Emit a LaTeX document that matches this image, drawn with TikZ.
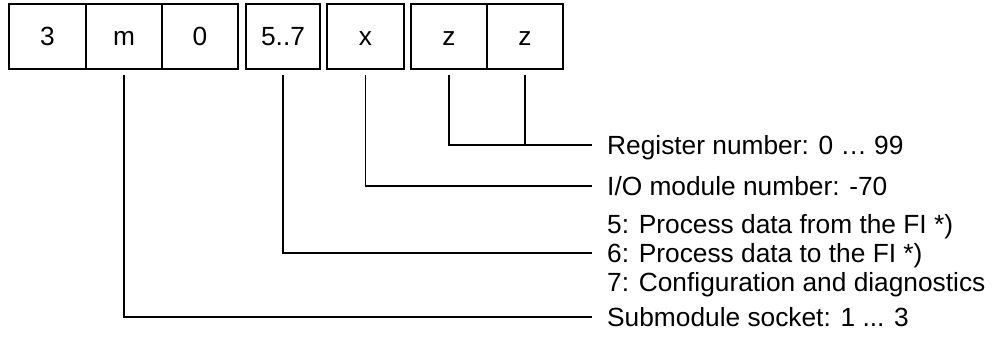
\documentclass[tikz,border=0pt]{standalone}
\usepackage{fontspec}
\setmainfont{Liberation Sans}
\begin{document}
\begin{tikzpicture}[x=1pt,y=-1pt,
  cell/.style={draw,line width=1.8pt,minimum height=65pt,inner sep=0pt,
    text height=18.8pt,text depth=0pt,
    font=\fontsize{26.3}{30}\selectfont},
  label/.style={anchor=west,inner sep=0pt,text height=18.8pt,text depth=0pt,
    font=\fontsize{26.3}{30}\selectfont},
  lead/.style={line width=1.5pt}]
\useasboundingbox (0,0) rectangle (996,338);

% address fields
\node[cell,minimum width=77pt] (c3) at (47.5,36.5) {3};
\node[cell,minimum width=76pt] (m)  at (124,36.5) {m};
\node[cell,minimum width=76pt] (c0) at (200,36.5) {0};
\node[cell,minimum width=74pt] (area) at (283,36.5) {5..7};
\node[cell,minimum width=77pt] (x)  at (365.5,36.5) {x};
\node[cell,minimum width=76pt] (z1) at (449,36.5) {z};
\node[cell,minimum width=76pt] (z2) at (525,36.5) {z};

% explanations
\node[label] (reg) at (607,145) {Register number: 0 … 99};
\node[label] (io)  at (607,186) {I/O module number: -70};
\node[label] (t5)  at (607,224) {5: Process data from the FI *)};
\node[label] (t6)  at (607,253) {6: Process data to the FI *)};
\node[label] (t7)  at (607,282) {7: Configuration and diagnostics};
\node[label] (sub) at (607,317) {Submodule socket: 1 ... 3};

% leader lines
\draw[lead] ([yshift=-5pt]z1.south) |- ([xshift=-15pt]reg.west);
\draw[lead] ([yshift=-5pt]z2.south) -- (z2.south |- reg.west);
\draw[lead] ([yshift=-5pt]x.south) |- ([xshift=-15pt]io.west);
\draw[lead] ([yshift=-5pt]area.south) |- ([xshift=-15pt]t6.west);
\draw[lead] ([yshift=-5pt]m.south) |- ([xshift=-15pt]sub.west);
\end{tikzpicture}
\end{document}
